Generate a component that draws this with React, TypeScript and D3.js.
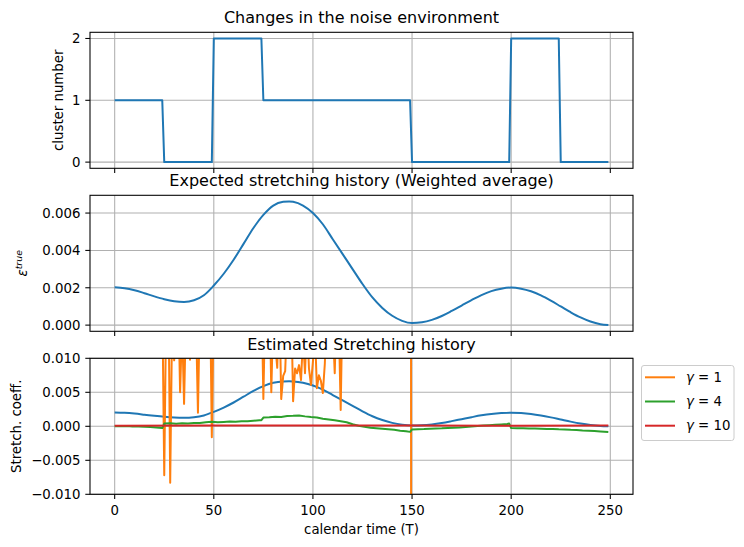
import * as d3 from 'd3';

// calendar time ticks shared by all three panels
const timeTicks = [0, 50, 100, 150, 200, 250];
const clusterTicks = [0, 1, 2];
const epsTicks = [0, 0.002, 0.004, 0.006];
const stretchTicks = [-0.01, -0.005, 0, 0.005, 0.01];

// active noise cluster, given at the change points (t, cluster)
const clusterSteps: [number, number][] = [
  [0, 1], [24, 1], [25, 0], [49, 0], [50, 2], [74, 2], [75, 1], [149, 1],
  [150, 0], [199, 0], [200, 2], [224, 2], [225, 0], [249, 0],
];

// expected (weighted) stretching history
const epsTrue: [number, number][] = [
  [0, 0.00203], [5, 0.00198], [10, 0.00187], [15, 0.00171], [20, 0.00154],
  [25, 0.00139], [30, 0.00128], [35, 0.00124], [40, 0.00133], [45, 0.0016],
  [50, 0.00212], [55, 0.00275], [60, 0.0035], [65, 0.00435], [70, 0.0052],
  [75, 0.0059], [80, 0.0064], [85, 0.0066], [88, 0.00662], [90, 0.0066],
  [95, 0.0064], [100, 0.006], [105, 0.0054], [110, 0.0046], [115, 0.0038],
  [120, 0.003], [125, 0.0022], [130, 0.00148], [135, 0.00092], [140, 0.0005],
  [145, 0.00023], [150, 0.00011], [155, 0.00015], [160, 0.00028], [165, 0.00049],
  [170, 0.00076], [175, 0.00105], [180, 0.00134], [185, 0.00161], [190, 0.00182],
  [195, 0.00195], [200, 0.00201], [205, 0.00195], [210, 0.00181], [215, 0.00159],
  [220, 0.00131], [225, 0.001], [230, 0.00069], [235, 0.00041], [240, 0.00019],
  [245, 0.00005], [249, 0],
];

// estimate with gamma = 1 (mostly off the scale)
const gamma1: [number, number][] = [
  [0, 0.021], [8, 0.019], [16, 0.022], [24, 0.019], [25, -0.0072], [26, 0.018],
  [27, 0.024], [28, -0.0083], [29, 0.016], [30, 0.0097], [31, 0.014], [32, 0.02],
  [33, 0.005], [34, 0.015], [35, 0.0033], [36, 0.017], [37, 0.012], [38, 0.0098],
  [39, 0.019], [40, 0.023], [41, 0.016], [42, 0.002], [43, 0.018], [45, 0.021],
  [48, 0.022], [49, -0.0016], [50, 0.019], [60, 0.022], [74, 0.021], [75, 0.004],
  [76, 0.019], [77, 0.014], [78, 0.022], [79, 0.005], [80, 0.017], [81, 0.012],
  [82, 0.0086], [83, 0.02], [84, 0.004], [85, 0.0074], [86, 0.0081], [87, 0.016],
  [88, 0.011], [89, 0.019], [90, 0.0037], [91, 0.0085], [92, 0.0078], [93, 0.009],
  [94, 0.0068], [95, 0.013], [96, 0.0078], [97, 0.016], [98, 0.0085], [99, 0.0061],
  [100, 0.0095], [101, 0.014], [102, 0.0056], [103, 0.0075], [104, 0.0067],
  [105, 0.0049], [106, 0.0092], [107, 0.018], [108, 0.012], [109, 0.021],
  [110, 0.015], [111, 0.0078], [112, 0.019], [113, 0.016], [114, 0.0024],
  [115, 0.02], [116, 0.023], [130, 0.021], [148, 0.022], [149, 0.35],
  [150, -0.35], [151, -0.021], [200, -0.02], [249, -0.022],
];

// estimate with gamma = 4
const gamma4: [number, number][] = [
  [0, 0.00002], [3, 0], [6, 0.00003], [9, -0.00004], [12, -0.00002], [15, -0.00008],
  [18, -0.0001], [21, -0.00016], [24, -0.00026], [25, 0.0004], [28, 0.00046],
  [31, 0.00038], [34, 0.00045], [37, 0.00042], [40, 0.0005], [43, 0.00047],
  [46, 0.0006], [49, 0.00066], [52, 0.00058], [55, 0.00064], [58, 0.0007],
  [61, 0.00068], [64, 0.00076], [67, 0.00074], [70, 0.00082], [73, 0.00088],
  [74, 0.0009], [75, 0.00128], [78, 0.00132], [81, 0.0014], [84, 0.00138],
  [87, 0.0015], [90, 0.00154], [93, 0.0016], [96, 0.00146], [99, 0.00136],
  [102, 0.0013], [105, 0.00112], [108, 0.001], [111, 0.00088], [114, 0.00074],
  [117, 0.0006], [120, 0.0003], [123, 0.00008], [126, -0.00008], [129, -0.0002],
  [132, -0.00028], [135, -0.00036], [138, -0.00044], [141, -0.00052], [144, -0.00064],
  [147, -0.00072], [149, -0.00082], [150, -0.00046], [153, -0.00042], [156, -0.0004],
  [159, -0.00036], [162, -0.00032], [165, -0.0003], [168, -0.00024], [171, -0.0002],
  [174, -0.00016], [177, -0.0001], [180, -0.00004], [183, 0.00004], [186, 0.0001],
  [189, 0.00016], [192, 0.00022], [195, 0.00028], [198, 0.00034], [199, 0.0004],
  [200, -0.00026], [203, -0.0003], [206, -0.00028], [209, -0.00034], [212, -0.00032],
  [215, -0.00036], [218, -0.0004], [221, -0.00038], [224, -0.00044], [227, -0.00046],
  [230, -0.00052], [233, -0.00056], [236, -0.00062], [239, -0.00066], [242, -0.0007],
  [245, -0.00076], [249, -0.00084],
];

// estimate with gamma = 10
const gamma10: [number, number][] = [
  [0, 0.00008], [50, 0.0001], [100, 0.00011], [150, 0.0001], [200, 0.00009], [249, 0.0001],
];

const legendLabels = ['1', '4', '10'];

const C = {
  blue: '#1f77b4',
  orange: '#ff7f0e',
  green: '#2ca02c',
  red: '#d62728',
  grid: '#b0b0b0',
};

const FONT = 'DejaVu Sans, sans-serif';
const W = 744;
const H = 547;
const left = 90;
const right = 633;
const panelH = 136;
const tops = [32.3, 195.3, 358.3];
const tickLen = 4.7;

const pad = (lo: number, hi: number): [number, number] => {
  const m = (hi - lo) * 0.05;
  return [lo - m, hi + m];
};

const tExt = d3.extent(epsTrue, (d) => d[0]) as [number, number];
const x = d3.scaleLinear().domain(pad(tExt[0], tExt[1])).range([left, right]);

const yCluster = d3
  .scaleLinear()
  .domain(pad(0, 2))
  .range([tops[0] + panelH, tops[0]]);
const epsExt = d3.extent(epsTrue, (d) => d[1]) as [number, number];
const yEps = d3
  .scaleLinear()
  .domain(pad(epsExt[0], epsExt[1]))
  .range([tops[1] + panelH, tops[1]]);
const yStretch = d3
  .scaleLinear()
  .domain([-0.01, 0.01])
  .range([tops[2] + panelH, tops[2]]);

const path = (y: d3.ScaleLinear<number, number>, data: [number, number][], smooth = false) => {
  const line = d3
    .line<[number, number]>()
    .x((d) => x(d[0]))
    .y((d) => y(d[1]));
  if (smooth) line.curve(d3.curveMonotoneX);
  return line(data) ?? '';
};

type PanelProps = {
  id: string;
  top: number;
  y: d3.ScaleLinear<number, number>;
  yTicks: number[];
  yFmt: (v: number) => string;
  title: string;
  titleGap: number;
  xLabels?: boolean;
  children: React.ReactNode;
};

function Panel({ id, top, y, yTicks, yFmt, title, titleGap, xLabels, children }: PanelProps) {
  const bottom = top + panelH;
  return (
    <g>
      <clipPath id={id}>
        <rect x={left} y={top} width={right - left} height={panelH} />
      </clipPath>
      {timeTicks.map((t) => (
        <line key={'gx' + t} x1={x(t)} x2={x(t)} y1={top} y2={bottom} stroke={C.grid} strokeWidth={1.07} />
      ))}
      {yTicks.map((v) => (
        <line key={'gy' + v} x1={left} x2={right} y1={y(v)} y2={y(v)} stroke={C.grid} strokeWidth={1.07} />
      ))}
      <g clipPath={`url(#${id})`} fill="none" strokeWidth={2} strokeLinejoin="round">
        {children}
      </g>
      <rect x={left} y={top} width={right - left} height={panelH} fill="none" stroke="#000" strokeWidth={1.07} />
      {timeTicks.map((t) => (
        <line key={'tx' + t} x1={x(t)} x2={x(t)} y1={bottom} y2={bottom + tickLen} stroke="#000" strokeWidth={1.07} />
      ))}
      {yTicks.map((v) => (
        <g key={'ty' + v}>
          <line x1={left - tickLen} x2={left} y1={y(v)} y2={y(v)} stroke="#000" strokeWidth={1.07} />
          <text x={left - 9.6} y={y(v)} dy="0.36em" textAnchor="end" fontSize={13.3}>
            {yFmt(v)}
          </text>
        </g>
      ))}
      {xLabels &&
        timeTicks.map((t) => (
          <text key={'lx' + t} x={x(t)} y={bottom + 21} textAnchor="middle" fontSize={13.3}>
            {t}
          </text>
        ))}
      <text x={(left + right) / 2} y={top - titleGap} textAnchor="middle" fontSize={16}>
        {title}
      </text>
    </g>
  );
}

export default function App() {
  const f3 = d3.format('.3f');
  const legendColors = [C.orange, C.green, C.red];
  return (
    <svg
      width={W}
      height={H}
      style={{ position: 'absolute', left: 0, top: 0, background: '#fff' }}
      fontFamily={FONT}
    >
      <rect width={W} height={H} fill="#fff" />

      <Panel
        id="clip-cluster"
        top={tops[0]}
        y={yCluster}
        yTicks={clusterTicks}
        yFmt={(v) => String(v)}
        title="Changes in the noise environment"
        titleGap={9}
      >
        <path d={path(yCluster, clusterSteps)} stroke={C.blue} />
      </Panel>

      <Panel
        id="clip-eps"
        top={tops[1]}
        y={yEps}
        yTicks={epsTicks}
        yFmt={f3}
        title="Expected stretching history (Weighted average)"
        titleGap={9}
      >
        <path d={path(yEps, epsTrue, true)} stroke={C.blue} />
      </Panel>

      <Panel
        id="clip-stretch"
        top={tops[2]}
        y={yStretch}
        yTicks={stretchTicks}
        yFmt={f3}
        title="Estimated Stretching history"
        titleGap={8.5}
        xLabels
      >
        <path d={path(yStretch, epsTrue, true)} stroke={C.blue} />
        <path d={path(yStretch, gamma1)} stroke={C.orange} />
        <path d={path(yStretch, gamma4)} stroke={C.green} />
        <path d={path(yStretch, gamma10)} stroke={C.red} />
      </Panel>

      {/* axis labels */}
      <text transform={`translate(62.5,${tops[0] + panelH / 2}) rotate(-90)`} textAnchor="middle" fontSize={13.3}>
        cluster number
      </text>
      <text transform={`translate(26.7,${tops[1] + panelH / 2}) rotate(-90)`} textAnchor="middle" fontSize={13.3}>
        <tspan fontStyle="italic">ε</tspan>
        <tspan fontStyle="italic" fontSize={9.4} dy={-5}>true</tspan>
      </text>
      <text transform={`translate(20.5,${tops[2] + panelH / 2}) rotate(-90)`} textAnchor="middle" fontSize={13.3}>
        Stretch. coeff.
      </text>
      <text x={(left + right) / 2} y={533.5} textAnchor="middle" fontSize={13.3}>
        calendar time (T)
      </text>

      {/* legend */}
      <g>
        <rect x={641.5} y={365.5} width={92.5} height={75} rx={2.5} fill="#fff" fillOpacity={0.8} stroke="#cccccc" strokeWidth={1} />
        {legendLabels.map((g, i) => {
          const ly = 377.3 + i * 24.2;
          return (
            <g key={g}>
              <line x1={645} x2={675} y1={ly} y2={ly} stroke={legendColors[i]} strokeWidth={2} />
              <text x={686} y={ly} dy="0.36em" fontSize={13.3}>
                <tspan fontStyle="italic">γ</tspan>
                <tspan> = {g}</tspan>
              </text>
            </g>
          );
        })}
      </g>
    </svg>
  );
}
